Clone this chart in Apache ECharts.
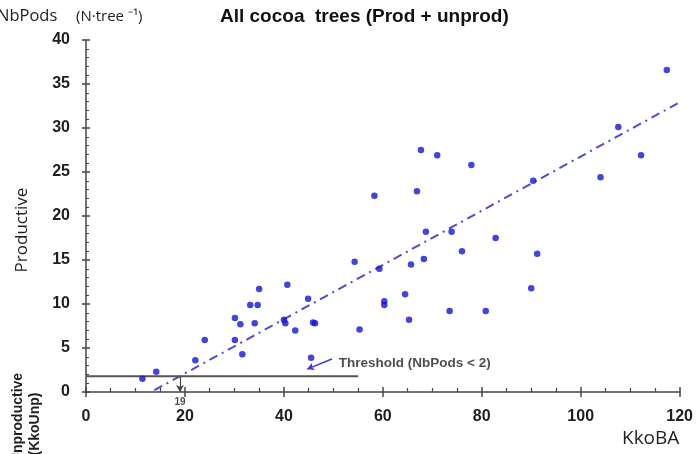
<!DOCTYPE html>
<html><head><meta charset="utf-8">
<script src="https://cdn.jsdelivr.net/npm/echarts@6/dist/echarts.min.js"></script>
<style>html,body{margin:0;padding:0;background:#fff}#c{width:696px;height:454px}</style>
</head><body><div id="c"></div>
<script>
// ---- data ----
const kkoBA = [11.4,14.2,22.1,24.0,30.1,31.6,30.1,31.2,33.2,34.7,35.0,34.1,40.7,40.0,40.3,42.3,44.9,46.3,45.9,45.5,54.3,55.3,59.3,60.3,60.3,64.5,65.3,65.7,68.3,68.7,73.9,73.5,76.0,80.8,82.8,90.0,91.2,58.3,66.9,67.7,71.0,77.9,90.4,104.0,107.6,112.2,117.4];
const nbPods = [1.5,2.3,3.6,5.9,5.9,4.3,8.4,7.7,9.9,9.9,11.7,7.8,12.2,8.2,7.8,7.0,10.6,7.8,7.9,3.9,14.8,7.1,14.0,10.3,9.9,11.1,8.2,14.5,15.1,18.2,18.2,9.2,16.0,9.2,17.5,11.8,15.7,22.3,22.8,27.5,26.9,25.8,24.0,24.4,30.1,26.9,36.6];
const trendX = [13.8, 119.6];
const trendY = [0.2, 32.8];
const thresholdLevel = 1.8;
const thresholdLineX = [0, 55];
const thresholdCross = 19;
const arrowFrom = [49.7, 3.75];
const arrowTo = [44.7, 2.6];
const xTickLabels = [0,20,40,60,80,100,120];
const yTickLabels = [0,5,10,15,20,25,30,35,40];

const TXT = '#1e1e1e';
const AX = '#444';
const BFONT = '"Liberation Sans", Arial, sans-serif';
const FONT = '"Open Sans", "Liberation Sans", sans-serif';

const chart = echarts.init(document.getElementById('c'), null, {renderer:'canvas'});
const points = kkoBA.map((x,i)=>[x, nbPods[i]]);
const trend = trendX.map((x,i)=>[x, trendY[i]]);

const axisCommon = {
  axisLine:{show:true, lineStyle:{color:AX, width:1.5}},
  splitLine:{show:false},
};

chart.setOption({
  animation:false,
  backgroundColor:'#fff',
  grid:{left:86, right:9, top:40, bottom:62, containLabel:false},
  xAxis:[{
    type:'value', min:xTickLabels[0], max:xTickLabels[xTickLabels.length-1], interval:20,
    ...axisCommon,
    axisTick:{show:true, inside:false, length:5, lineStyle:{color:AX, width:1.5}},
    minorTick:{show:false},
    axisLabel:{show:true, margin:17, fontSize:16, fontWeight:'bold', color:TXT, fontFamily:BFONT},
  },{
    type:'value', min:xTickLabels[0], max:xTickLabels[xTickLabels.length-1], interval:20,
    position:'bottom',
    axisLine:{show:false}, splitLine:{show:false}, axisLabel:{show:false},
    axisTick:{show:true, inside:true, length:5, lineStyle:{color:AX, width:1.5}},
    minorTick:{show:true, splitNumber:4, length:4, lineStyle:{color:AX, width:1.2}},
  }],
  yAxis:[{
    type:'value', min:yTickLabels[0], max:yTickLabels[yTickLabels.length-1], interval:5,
    ...axisCommon,
    axisTick:{show:true, inside:false, length:4, lineStyle:{color:AX, width:1.5}},
    minorTick:{show:false},
    axisLabel:{show:true, margin:16, fontSize:16, fontWeight:'bold', color:TXT, fontFamily:BFONT},
  },{
    type:'value', min:yTickLabels[0], max:yTickLabels[yTickLabels.length-1], interval:5,
    position:'left',
    axisLine:{show:false}, splitLine:{show:false}, axisLabel:{show:false},
    axisTick:{show:true, inside:true, length:4, lineStyle:{color:AX, width:1.5}},
    minorTick:{show:true, splitNumber:5, length:3, lineStyle:{color:AX, width:1}},
  }],
  series:[
    {
      type:'line', data:trend, symbol:'none', silent:true, z:2,
      lineStyle:{color:'#4c4cd0', width:2, type:[9,5,2,5]},
    },
    {
      type:'line', data:thresholdLineX.map(x=>[x, thresholdLevel]), symbol:'none', z:3,
      lineStyle:{color:'#555', width:2},
      markLine:{
        silent:true, symbol:['none','arrow'], symbolSize:[6,7],
        label:{show:false},
        data:[
          [{coord:[thresholdCross, thresholdLevel], lineStyle:{color:'#444', width:1.2, type:'solid'}},
           {coord:[thresholdCross, 0]}],
          [{coord:arrowFrom, lineStyle:{color:'#3a3ae0', width:1.5, type:'solid'}},
           {coord:arrowTo}]
        ]
      }
    },
    {
      type:'scatter', data:points, symbol:'circle', symbolSize:6.5, z:5,
      itemStyle:{color:'#1414d6'}
    },
    {
      type:'scatter', symbolSize:0, silent:true, z:6,
      data:[{value:[arrowFrom[0]+1.4, arrowFrom[1]-0.5], label:{show:true, position:'right', distance:0,
        formatter:'Threshold (NbPods < 2)', fontSize:13.5, fontWeight:'bold', color:TXT, fontFamily:BFONT}},
        {value:[thresholdCross, 0], label:{show:true, position:'bottom', distance:5,
        formatter:String(thresholdCross), fontSize:10, fontWeight:'bold', color:TXT, fontFamily:BFONT}}]
    }
  ],
  graphic:[
    {type:'text', left:-3, top:8, style:{text:'NbPods', fontSize:16.5, fontFamily:FONT, fill:TXT}},
    {type:'text', left:76, top:9, style:{text:'(N·tree \u207B\u00B9)', fontSize:15, fontFamily:FONT, fill:TXT}},
    {type:'text', left:220, top:7, style:{text:'All cocoa  trees (Prod + unprod)', fontSize:19, fontWeight:'bold', fontFamily:BFONT, fill:'#111'}},
    {type:'text', left:622, top:429, style:{text:'KkoBA', fontSize:19, fontFamily:FONT, fill:TXT}},
    {type:'text', x:22, y:230, rotation:Math.PI/2, style:{text:'Productive', fontSize:17, fontFamily:FONT, fill:TXT, align:'center', verticalAlign:'middle'}},
    {type:'text', x:18, y:418, rotation:Math.PI/2, style:{text:'Unproductive', fontSize:14, fontWeight:'bold', fontFamily:BFONT, fill:TXT, align:'center', verticalAlign:'middle'}},
    {type:'text', x:35, y:424, rotation:Math.PI/2, style:{text:'(KkoUnp)', fontSize:14, fontWeight:'bold', fontFamily:BFONT, fill:TXT, align:'center', verticalAlign:'middle'}},
  ]
});
</script></body></html>
